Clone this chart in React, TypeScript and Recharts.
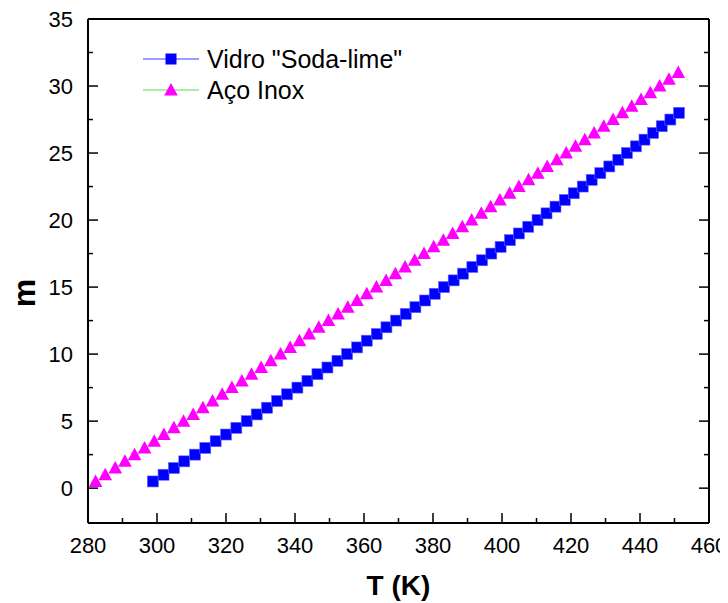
import React from "react";
import { Legend, Scatter, ScatterChart, XAxis, YAxis } from "recharts";

// Vidro "Soda-lime": temperature (K) vs fringe count m
const vidroT = [
  298.8, 301.9, 304.9, 307.9, 311.0, 314.0, 317.0, 320.0, 323.0, 326.0,
  328.9, 331.9, 334.8, 337.7, 340.7, 343.6, 346.5, 349.4, 352.3, 355.1,
  358.0, 360.8, 363.7, 366.5, 369.3, 372.1, 374.9, 377.7, 380.5, 383.2,
  386.0, 388.7, 391.4, 394.2, 396.9, 399.6, 402.3, 404.9, 407.6, 410.3,
  412.9, 415.5, 418.2, 420.8, 423.4, 426.0, 428.5, 431.1, 433.7, 436.2,
  438.8, 441.3, 443.8, 446.3, 448.8, 451.3,
];
const vidroM = [
  0.5, 1, 1.5, 2, 2.5, 3, 3.5, 4, 4.5, 5, 5.5, 6, 6.5, 7, 7.5, 8, 8.5, 9, 9.5, 10,
  10.5, 11, 11.5, 12, 12.5, 13, 13.5, 14, 14.5, 15, 15.5, 16, 16.5, 17, 17.5, 18,
  18.5, 19, 19.5, 20, 20.5, 21, 21.5, 22, 22.5, 23, 23.5, 24, 24.5, 25, 25.5, 26,
  26.5, 27, 27.5, 28,
];

// Aço Inox
const acoT = [
  282.2, 285.0, 287.9, 290.7, 293.5, 296.4, 299.2, 302.0, 304.9, 307.7,
  310.5, 313.3, 316.1, 318.9, 321.7, 324.6, 327.4, 330.2, 333.0, 335.8,
  338.6, 341.3, 344.1, 346.9, 349.7, 352.5, 355.3, 358.0, 360.8, 363.6,
  366.4, 369.1, 371.9, 374.7, 377.4, 380.2, 383.0, 385.7, 388.5, 391.2,
  394.0, 396.7, 399.4, 402.2, 404.9, 407.7, 410.4, 413.1, 415.9, 418.6,
  421.3, 424.0, 426.7, 429.5, 432.2, 434.9, 437.6, 440.3, 443.0, 445.7,
  448.4, 451.1,
];
const acoM = [
  0.5, 1, 1.5, 2, 2.5, 3, 3.5, 4, 4.5, 5, 5.5, 6, 6.5, 7, 7.5, 8, 8.5, 9, 9.5, 10,
  10.5, 11, 11.5, 12, 12.5, 13, 13.5, 14, 14.5, 15, 15.5, 16, 16.5, 17, 17.5, 18,
  18.5, 19, 19.5, 20, 20.5, 21, 21.5, 22, 22.5, 23, 23.5, 24, 24.5, 25, 25.5, 26,
  26.5, 27, 27.5, 28, 28.5, 29, 29.5, 30, 30.5, 31,
];

const xTicks = [280, 290, 300, 310, 320, 330, 340, 350, 360, 370, 380, 390, 400, 410, 420, 430, 440, 450, 460];
const xMajor = [280, 300, 320, 340, 360, 380, 400, 420, 440, 460];
const yTicks = [0, 2.5, 5, 7.5, 10, 12.5, 15, 17.5, 20, 22.5, 25, 27.5, 30, 32.5, 35];
const yMajor = [0, 5, 10, 15, 20, 25, 30, 35];

const vidroData = vidroT.map((t, i) => ({ t, m: vidroM[i] }));
const acoData = acoT.map((t, i) => ({ t, m: acoM[i] }));

const FONT = '"Liberation Sans", Arial, sans-serif';
// the chart is pulled 8px left so its svg starts at the page edge
const W = 728;
const H = 595;
const PL = 88;
const PR = 709;
const PT = 11;
const PB = 515;

const BLUE = "#0000ff";
const MAGENTA = "#ff00ff";

const Square = ({ cx, cy }: any) => (
  <rect x={cx - 5.5} y={cy - 5.5} width={11} height={11} fill={BLUE} stroke="#6666ff" strokeWidth={0.6} />
);

const Triangle = ({ cx, cy }: any) => (
  <polygon points={`${cx},${cy - 7} ${cx - 6.8},${cy + 5.5} ${cx + 6.8},${cy + 5.5}`} fill={MAGENTA} />
);

const BottomTick = ({ x, payload }: any) => {
  const major = xMajor.includes(payload.value);
  return (
    <g>
      <line x1={x} x2={x} y1={PB} y2={PB - (major ? 10 : 5)} stroke="#000" strokeWidth={1.5} />
      {major && (
        <text x={x} y={PB + 30} textAnchor="middle" fontSize={22} fontFamily={FONT} fill="#000">
          {payload.value}
        </text>
      )}
    </g>
  );
};

const TopTick = ({ x, payload }: any) => {
  const major = xMajor.includes(payload.value);
  return <line x1={x} x2={x} y1={PT} y2={PT + (major ? 10 : 5)} stroke="#000" strokeWidth={1.5} />;
};

const LeftTick = ({ y, payload }: any) => {
  const major = yMajor.includes(payload.value);
  return (
    <g>
      <line x1={PL} x2={PL + (major ? 10 : 5)} y1={y} y2={y} stroke="#000" strokeWidth={1.5} />
      {major && (
        <text x={PL - 15} y={y} dy="0.36em" textAnchor="end" fontSize={22} fontFamily={FONT} fill="#000">
          {payload.value}
        </text>
      )}
    </g>
  );
};

const RightTick = ({ y, payload }: any) => {
  const major = yMajor.includes(payload.value);
  return <line x1={PR} x2={PR - (major ? 10 : 5)} y1={y} y2={y} stroke="#000" strokeWidth={1.5} />;
};

const legendItems = [
  { name: 'Vidro "Soda-lime"', line: "#3a3aff", marker: "square" },
  { name: "Aço Inox", line: "#55dd55", marker: "triangle" },
];

const renderLegend = () => (
  <svg width={340} height={72}>
    {legendItems.map((item, i) => {
      const cy = 23 + i * 31;
      return (
        <g key={item.name}>
          <line x1={5} x2={61} y1={cy} y2={cy} stroke={item.line} strokeWidth={1.2} />
          {item.marker === "square" ? (
            <rect x={27.5} y={cy - 5.5} width={11} height={11} fill={BLUE} />
          ) : (
            <polygon points={`33,${cy - 7} 26.2,${cy + 5.5} 39.8,${cy + 5.5}`} fill={MAGENTA} />
          )}
          <text x={69} y={cy} dy="0.36em" fontSize={25} fontFamily={FONT} fill="#000">
            {item.name}
          </text>
        </g>
      );
    })}
  </svg>
);

export default function App() {
  return (
    <div style={{ width: W, height: H, marginLeft: -8, background: "#fff" }}>
      <ScatterChart width={W} height={H} margin={{ top: 10, right: 18, bottom: 0, left: 0 }}>
        <XAxis
          xAxisId="b"
          type="number"
          dataKey="t"
          domain={[280, 460]}
          ticks={xTicks}
          interval={0}
          allowDataOverflow
          height={80}
          axisLine={{ stroke: "#000", strokeWidth: 2 }}
          tickLine={false}
          tick={<BottomTick />}
          label={{
            content: ({ viewBox }: any) => (
              <text
                x={viewBox.x + viewBox.width / 2}
                y={viewBox.y + 72}
                textAnchor="middle"
                fontSize={28}
                fontWeight="bold"
                fontFamily={FONT}
                fill="#000"
              >
                T (K)
              </text>
            ),
          }}
        />
        <XAxis
          xAxisId="t"
          orientation="top"
          type="number"
          domain={[280, 460]}
          ticks={xTicks}
          interval={0}
          allowDataOverflow
          height={1}
          axisLine={{ stroke: "#000", strokeWidth: 2 }}
          tickLine={false}
          tick={<TopTick />}
        />
        <YAxis
          yAxisId="l"
          type="number"
          dataKey="m"
          domain={[-2.6, 35]}
          ticks={yTicks}
          interval={0}
          allowDataOverflow
          width={88}
          axisLine={{ stroke: "#000", strokeWidth: 2 }}
          tickLine={false}
          tick={<LeftTick />}
          label={{
            content: () => (
              <text
                x={35}
                y={285}
                textAnchor="middle"
                transform="rotate(-90 35 285)"
                fontSize={32}
                fontWeight="bold"
                fontFamily={FONT}
                fill="#000"
              >
                m
              </text>
            ),
          }}
        />
        <YAxis
          yAxisId="r"
          orientation="right"
          type="number"
          domain={[-2.6, 35]}
          ticks={yTicks}
          interval={0}
          allowDataOverflow
          width={1}
          axisLine={{ stroke: "#000", strokeWidth: 2 }}
          tickLine={false}
          tick={<RightTick />}
        />
        <Legend
          layout="vertical"
          align="center"
          verticalAlign="middle"
          content={renderLegend}
          wrapperStyle={{ left: 138, top: 28, width: 340, height: 72 }}
        />
        <Scatter
          name='Vidro "Soda-lime"'
          data={vidroData}
          xAxisId="b"
          yAxisId="l"
          shape={<Square />}
          isAnimationActive={false}
        />
        <Scatter
          name="Aço Inox"
          data={acoData}
          xAxisId="b"
          yAxisId="l"
          shape={<Triangle />}
          isAnimationActive={false}
        />
      </ScatterChart>
    </div>
  );
}
